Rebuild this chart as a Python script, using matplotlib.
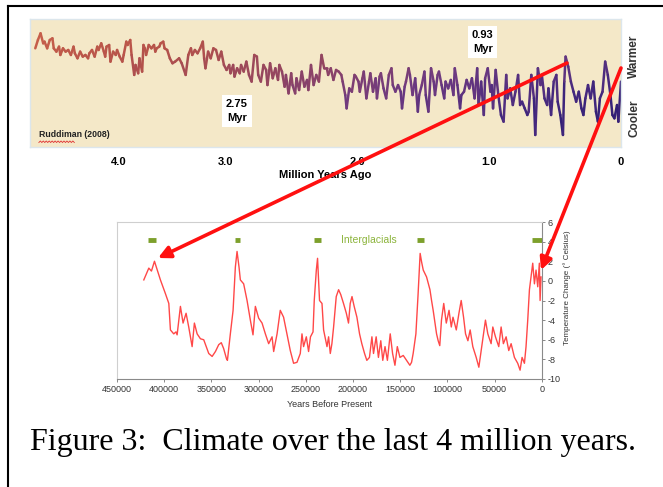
import numpy as np
import matplotlib
matplotlib.use("Agg")
import matplotlib.pyplot as plt
from matplotlib.collections import LineCollection
from matplotlib.colors import LinearSegmentedColormap
from matplotlib.patches import FancyArrowPatch
from matplotlib.lines import Line2D

plt.rcParams["axes.unicode_minus"] = False

# Painel de cima: Ruddiman (2008), milhoes de anos vs. indice de temperatura (sem escala)
top_myr = [4.44, 4.42, 4.40, 4.38, 4.37, 4.35, 4.33, 4.31, 4.30, 4.28,
           4.26, 4.25, 4.23, 4.21, 4.19, 4.17, 4.15, 4.14, 4.12, 4.10,
           4.08, 4.06, 4.04, 4.03, 4.01, 3.99, 3.97, 3.96, 3.94, 3.92,
           3.91, 3.90, 3.88, 3.87, 3.85, 3.83, 3.82, 3.80, 3.78, 3.77,
           3.75, 3.74, 3.72, 3.71, 3.69, 3.68, 3.66, 3.65, 3.63, 3.62,
           3.61, 3.60, 3.58, 3.56, 3.54, 3.53, 3.52, 3.50, 3.49, 3.47,
           3.46, 3.44, 3.42, 3.40,
           3.38, 3.35, 3.33, 3.30, 3.28, 3.26, 3.25, 3.23, 3.21, 3.19,
           3.17, 3.16, 3.15, 3.13, 3.11, 3.09, 3.07, 3.05, 3.03, 3.01,
           2.99, 2.97, 2.96, 2.94, 2.93, 2.91, 2.89, 2.88, 2.86, 2.84,
           2.82, 2.80, 2.78, 2.76, 2.75, 2.73, 2.71, 2.69, 2.68, 2.66,
           2.64, 2.62, 2.60, 2.59, 2.57, 2.55, 2.54, 2.52, 2.50, 2.49,
           2.47, 2.46, 2.44, 2.42, 2.40, 2.38, 2.37, 2.35, 2.33, 2.31,
           2.29, 2.27, 2.25,
           2.23, 2.22, 2.20, 2.18, 2.16, 2.14, 2.12, 2.11, 2.09, 2.08,
           2.06, 2.04, 2.02, 2.01, 1.99, 1.98, 1.96, 1.95, 1.93, 1.91,
           1.90, 1.88, 1.86, 1.85, 1.83, 1.82, 1.80, 1.78, 1.76, 1.74,
           1.73, 1.71, 1.69, 1.67, 1.66, 1.64, 1.63, 1.61, 1.60, 1.58,
           1.56, 1.54, 1.53, 1.51, 1.49, 1.48, 1.46, 1.44, 1.42, 1.41,
           1.39, 1.38, 1.36, 1.34, 1.33, 1.31, 1.29, 1.27, 1.26, 1.24,
           1.22, 1.21, 1.19, 1.17, 1.15,
           1.13, 1.11, 1.09, 1.08, 1.06, 1.04, 1.03, 1.01, 0.99, 0.98,
           0.97, 0.95, 0.93, 0.91, 0.89, 0.87, 0.86, 0.84, 0.82, 0.80,
           0.78, 0.765, 0.75, 0.73, 0.71, 0.70, 0.68, 0.66, 0.65, 0.63,
           0.61, 0.60, 0.58, 0.56, 0.55, 0.53, 0.51, 0.49, 0.48, 0.46,
           0.44, 0.43, 0.42, 0.40, 0.38, 0.36, 0.34, 0.32, 0.30, 0.285,
           0.27, 0.25, 0.23, 0.21, 0.19, 0.175, 0.16, 0.14, 0.12, 0.10,
           0.08, 0.065, 0.05, 0.03, 0.02, 0.0]
top_val = [7.71, 8.36, 8.88, 8.10, 8.23, 7.71, 8.36, 8.49, 7.71, 7.45,
           7.84, 7.19, 7.71, 7.45, 7.58, 7.19, 7.84, 7.32, 6.93, 7.45,
           7.06, 7.19, 6.93, 7.32, 7.58, 7.06, 7.84, 7.58, 8.10, 7.45,
           7.06, 7.84, 7.97, 6.67, 7.45, 7.19, 7.58, 7.06, 6.67, 7.19,
           8.23, 7.97, 8.36, 7.19, 5.63, 6.41, 5.76, 6.93, 5.89, 7.97,
           7.71, 7.19, 7.97, 7.71, 7.97, 7.45, 7.71, 7.84, 8.10, 8.23,
           7.71, 7.58, 6.93, 6.54,
           6.67, 6.93, 6.54, 5.63, 7.19, 7.71, 7.19, 7.58, 7.32, 7.71,
           8.23, 6.93, 6.15, 7.45, 6.93, 7.71, 7.58, 6.80, 7.45, 6.41,
           6.02, 6.41, 5.76, 6.41, 5.50, 6.15, 5.76, 6.41, 5.89, 6.67,
           5.63, 5.11, 7.19, 7.06, 5.63, 5.11, 6.41, 6.02, 4.84, 6.54,
           5.37, 6.15, 5.24, 6.41, 5.89, 4.71, 5.63, 4.19, 5.76, 4.84,
           4.19, 5.37, 4.45, 5.89, 4.71, 5.24, 4.45, 6.41, 4.84, 5.63,
           5.11, 7.19, 6.15,
           6.15, 5.63, 6.15, 5.24, 6.02, 5.89, 5.63, 5.11, 4.06, 3.02,
           4.58, 4.32, 5.63, 5.50, 5.11, 4.32, 5.37, 5.89, 3.80, 5.11,
           5.76, 4.32, 5.37, 3.80, 5.50, 5.76, 4.58, 3.80, 5.63, 6.15,
           4.84, 4.32, 4.84, 4.32, 3.02, 4.71, 5.11, 6.15, 5.63, 4.06,
           5.37, 2.76, 4.06, 4.84, 5.89, 4.06, 2.76, 6.15, 5.11, 4.06,
           5.63, 5.89, 4.84, 3.80, 5.11, 4.58, 5.24, 4.06, 6.15, 4.84,
           3.02, 4.06, 4.32, 5.24, 4.58,
           5.37, 3.80, 6.15, 3.28, 5.11, 2.50, 5.37, 6.15, 4.32, 4.84,
           3.02, 6.02, 4.06, 2.50, 1.98, 5.63, 3.80, 4.58, 3.28, 4.32,
           5.63, 3.28, 3.54, 3.02, 2.50, 2.76, 5.63, 3.80, 0.94, 6.15,
           4.84, 5.63, 3.80, 3.28, 4.58, 2.50, 5.11, 5.63, 3.54, 2.50,
           0.94, 5.11, 7.06, 6.28, 5.11, 4.32, 3.54, 4.32, 3.02, 2.50,
           3.80, 4.84, 3.80, 5.11, 2.76, 1.98, 3.80, 4.32, 6.67, 5.63,
           4.06, 2.50, 2.24, 3.28, 1.98, 5.11]
top_tick_pos = [3.81, 3.0, 2.0, 1.0, 0.0]
top_tick_lbl = ["4.0", "3.0", "2.0", "1.0", "0"]

# Painel de baixo: Vostok, anos antes do presente vs. variacao de temperatura
vostok_anos = [421600, 416300, 413500, 410300, 404000, 398700, 395100, 393400, 389900, 387500,
               386300, 382800, 380000, 376800, 374000, 370400, 368000, 365100, 361600, 358100,
               352800, 349200, 345700, 342200, 339500, 337000, 334100, 333000, 329900, 327000,
               324600, 322800, 320700, 319300, 315800, 312200, 308700, 305900, 303400, 299900,
               296300, 292800, 289300, 285700, 284000, 280400, 277000, 273500, 269900, 266400,
               262900, 259300, 255800, 254000, 252300, 249400, 247000, 245000, 242300, 241000,
               238800, 237500, 235400, 232800, 231100, 227500, 225800, 224000, 222300, 220500,
               217700, 215200, 212900, 210000, 207000, 204700, 202900, 201000, 198700, 195800,
               193000, 190600, 187700, 185300, 182500, 179900, 178200, 175400, 173000, 170500,
               168400, 166000, 163500, 160500, 158000, 155500, 153000, 150200, 146700, 143200,
               139700, 137900, 136200, 133300, 131000, 128800, 127200, 125500, 122000, 118400,
               116700, 115000, 111400, 109700, 108000, 106200, 103800, 101100, 98200, 95800,
               94000, 90500, 87700, 85300, 82800, 80700, 78200, 75800, 73000, 69400,
               66600, 64100, 61700, 59600, 57100, 53600, 51800, 49000, 45500, 43000,
               40600, 37700, 34900, 32400, 28900, 25400, 22900, 20800, 18300, 16600,
               14800, 13000, 11300, 9500, 7700, 6000, 4200, 2500, 1700, 700]
vostok_temp = [0.1, 1.3, 1.0, 2.0, 0.1, -1.3, -2.3, -5.0, -5.4, -5.2,
               -5.5, -2.6, -4.3, -3.3, -4.7, -6.7, -4.3, -5.4, -5.9, -6.0,
               -7.4, -7.7, -7.2, -6.5, -6.3, -6.9, -7.9, -8.1, -5.4, -3.0,
               1.4, 3.0, 1.4, 0.1, -0.3, -2.0, -4.0, -5.5, -2.6, -3.8,
               -4.3, -5.4, -6.4, -5.7, -7.2, -5.4, -3.0, -3.7, -5.4, -7.1,
               -8.4, -8.3, -7.4, -5.4, -6.7, -5.7, -7.2, -5.7, -5.2, -2.0,
               1.1, 2.3, -2.0, -2.3, -5.0, -6.7, -5.7, -7.4, -6.4, -4.7,
               -1.6, -0.9, -1.4, -2.3, -3.3, -4.3, -2.3, -1.6, -2.6, -3.7,
               -5.4, -6.4, -7.4, -8.1, -7.8, -5.7, -7.4, -5.7, -7.8, -6.1,
               -8.1, -6.7, -8.1, -5.4, -7.4, -8.6, -6.7, -7.8, -7.6, -8.1,
               -8.6, -8.3, -7.4, -5.4, -1.4, 2.8, 1.9, 1.1, 0.4, -0.9,
               -2.0, -3.0, -5.4, -6.1, -6.6, -4.0, -2.3, -4.3, -3.0, -4.7,
               -3.7, -5.0, -3.3, -2.0, -3.7, -5.4, -6.1, -5.0, -6.7, -7.8,
               -8.8, -7.1, -5.4, -4.0, -5.4, -6.4, -4.7, -5.7, -6.7, -4.7,
               -6.4, -5.7, -7.1, -6.4, -7.8, -8.4, -9.1, -7.8, -8.4, -6.7,
               -4.0, -0.9, 0.4, 1.8, -0.3, 1.1, -0.6, 1.8, -2.0, 0.4]

# Interglaciais (inicio e fim, anos antes do presente)
inter_inicio = [417000, 325300, 241500, 132300, 10600]
inter_fim = [409000, 319300, 234000, 124200, 0]
inter_nivel = 4.15

W, H = 663, 487

def fx(px):
    return px / W

def fy(py):
    return 1 - py / H

fig = plt.figure(figsize=(6.63, 4.87), dpi=100)
fig.patch.set_facecolor("white")

# ---- painel de cima ----
ax1 = fig.add_axes([fx(30), fy(147), (621 - 30) / W, (147 - 19) / H])
ax1.set_facecolor("#f4e8c8")
ax1.set_xlim(4.48, 0)
ax1.set_ylim(0, 10)

x = np.array(top_myr)
y = np.array(top_val)
pts = np.column_stack([x, y]).reshape(-1, 1, 2)
segs = np.concatenate([pts[:-1], pts[1:]], axis=1)
cmap = LinearSegmentedColormap.from_list(
    "rud", ["#24186e", "#44287e", "#6e3a80", "#96465e", "#b5524a", "#c9604a"])
cor = 0.6 * (x / 4.45) + 0.4 * ((y - 1) / 7.9)
cor = (cor[:-1] + cor[1:]) / 2
lc = LineCollection(segs, cmap=cmap, linewidths=1.8, capstyle="round", joinstyle="round")
lc.set_array(cor)
lc.set_clim(0, 1)
ax1.add_collection(lc)

ax1.set_yticks([])
ax1.set_xticks(top_tick_pos)
ax1.set_xticklabels(top_tick_lbl, fontsize=8, fontweight="bold", family="Liberation Sans")
ax1.tick_params(axis="x", length=0, pad=7)
ax1.set_xlabel("Million Years Ago", fontsize=8, fontweight="bold",
               family="Liberation Sans", labelpad=2)
for s in ax1.spines.values():
    s.set_color("#dce6ec")
    s.set_linewidth(1.0)

caixa = dict(boxstyle="square,pad=0.35", facecolor="white", edgecolor="none")
ax1.text(0.350, 0.28, "2.75\nMyr", transform=ax1.transAxes, ha="center", va="center",
         fontsize=8, fontweight="bold", family="Liberation Sans", bbox=caixa, linespacing=1.45)
ax1.text(0.766, 0.82, "0.93\nMyr", transform=ax1.transAxes, ha="center", va="center",
         fontsize=8, fontweight="bold", family="Liberation Sans", bbox=caixa, linespacing=1.45)
ax1.text(0.015, 0.10, "Ruddiman (2008)", transform=ax1.transAxes, ha="left", va="center",
         fontsize=6.3, fontweight="bold", family="Liberation Sans", color="#222222")
# sublinhado ondulado de corretor ortografico
zz = np.linspace(0.015, 0.075, 25)
ax1.plot(zz, 0.035 + 0.012 * (np.arange(25) % 2), transform=ax1.transAxes,
         color="#e03030", lw=0.6)

fig.text(fx(634), fy(56), "Warmer", rotation=90, ha="center", va="center",
         fontsize=8.5, fontweight="bold", family="Liberation Sans", color="#333333")
fig.text(fx(634), fy(118), "Cooler", rotation=90, ha="center", va="center",
         fontsize=8.5, fontweight="bold", family="Liberation Sans", color="#333333")

# ---- painel de baixo ----
ax2 = fig.add_axes([fx(117), fy(379), (541.7 - 117) / W, (379 - 222) / H])
ax2.plot(vostok_anos, vostok_temp, color="#ff1a1a", lw=1.0, alpha=0.8)
ax2.set_xlim(450000, 0)
ax2.set_ylim(-10, 6)
ax2.set_xticks(np.arange(0, 450001, 50000))
ax2.set_xticklabels([str(v) for v in range(0, 450001, 50000)])
ax2.set_yticks(np.arange(-10, 7, 2))
ax2.yaxis.tick_right()
ax2.yaxis.set_label_position("right")
ax2.tick_params(axis="both", direction="out", length=2.5, width=0.7, color="#888888",
                labelsize=6.5, labelcolor="#333333", pad=2)
for lbl in ax2.get_xticklabels() + ax2.get_yticklabels():
    lbl.set_family("Liberation Sans")
ax2.set_xlabel("Years Before Present", fontsize=6.5, family="Liberation Sans",
               color="#333333", labelpad=4)
ax2.set_ylabel("Temperature Change (\u00b0 Celsius)", fontsize=5.8, family="Liberation Sans",
               color="#333333", rotation=90)
ax2.yaxis.set_label_coords(1.05, 0.58)
for lado in ["top", "left"]:
    ax2.spines[lado].set_color("#cfcfcf")
    ax2.spines[lado].set_linewidth(0.8)
for lado in ["right", "bottom"]:
    ax2.spines[lado].set_color("#8a8a8a")
    ax2.spines[lado].set_linewidth(0.8)

ax2.hlines([inter_nivel] * len(inter_inicio), inter_inicio, inter_fim,
           color="#7da02c", lw=3.5)
ax2.text(0.593, 0.885, "Interglacials", transform=ax2.transAxes, ha="center", va="center",
         fontsize=7.5, color="#8cb43c", family="Liberation Sans")

# ---- setas vermelhas ligando os paineis ----
for (xa, ya), (xb, yb) in [((567, 63), (158, 258)), ((621, 68), (541, 270))]:
    seta = FancyArrowPatch((fx(xa), fy(ya)), (fx(xb), fy(yb)), transform=fig.transFigure,
                           arrowstyle="-|>", mutation_scale=18, lw=2.6, color="#ff1010",
                           shrinkA=0, shrinkB=0)
    fig.add_artist(seta)

# ---- moldura e legenda ----
fig.add_artist(Line2D([fx(8), 1.0], [fy(6), fy(6)], transform=fig.transFigure,
                      color="black", lw=1.5))
fig.add_artist(Line2D([fx(8), fx(8)], [fy(6), 0.0], transform=fig.transFigure,
                      color="black", lw=1.5))
fig.text(fx(333), fy(450), "Figure 3:  Climate over the last 4 million years.",
         ha="center", va="baseline", fontsize=23, family="Liberation Serif", color="black")

fig.savefig("out.png", dpi=100)
